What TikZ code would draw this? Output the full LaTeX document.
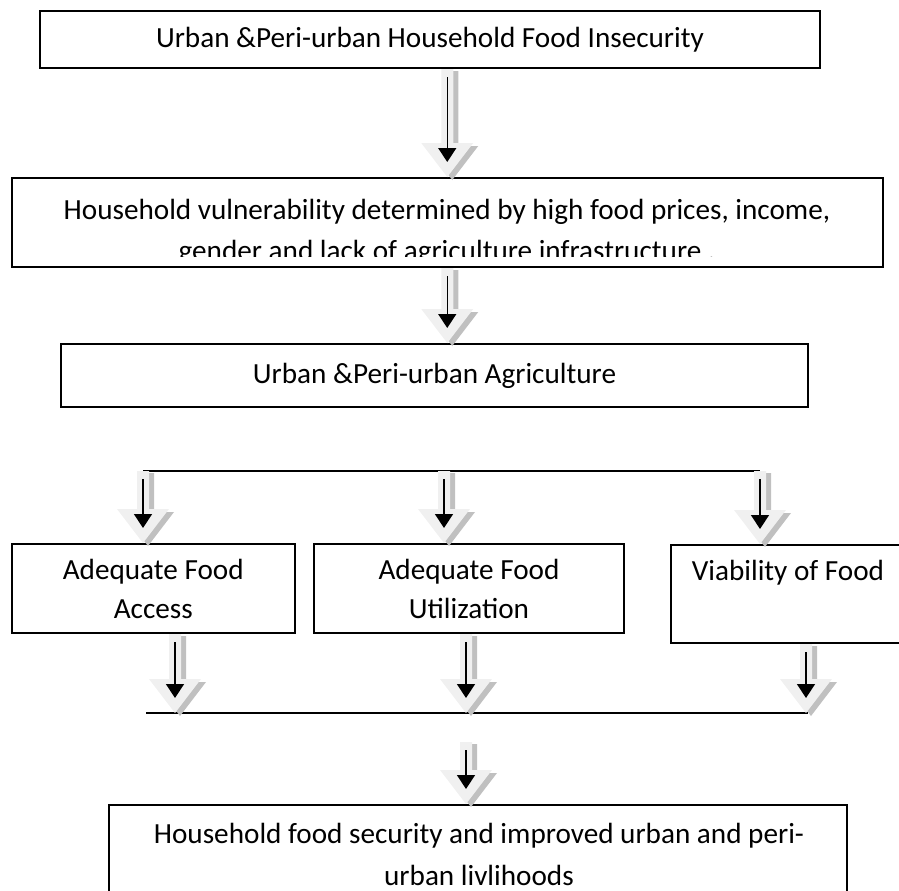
\documentclass[tikz,border=0pt]{standalone}
\usepackage{fontspec}
\setmainfont{Carlito}
\usepackage{tikz}
\usetikzlibrary{arrows.meta,positioning,calc}
\definecolor{arrowFill}{RGB}{240,240,240}
\definecolor{arrowShade}{RGB}{192,192,192}
\newcommand{\blockarrow}[2]{%
  \fill[arrowShade] let \p1=#1, \p2=#2 in
    (\x1-0.5pt,\y1-1pt) -- (\x1+5.5pt,\y1-1pt) -- (\x1+5.5pt,\y2+15.5pt)
    -- (\x1+15.5pt,\y2+15.5pt) -- (\x1+2.5pt,\y2-1.5pt)
    -- (\x1-10.5pt,\y2+15.5pt) -- (\x1-0.5pt,\y2+15.5pt) -- cycle;
  \fill[arrowFill] let \p1=#1, \p2=#2 in
    (\x1-3pt,\y1) -- (\x1+3pt,\y1) -- (\x1+3pt,\y2+17pt)
    -- (\x1+13pt,\y2+17pt) -- (\x1,\y2) -- (\x1-13pt,\y2+17pt)
    -- (\x1-3pt,\y2+17pt) -- cycle;
  \draw[line width=0.7pt, -{Triangle[width=9pt,length=7pt]}]
    let \p1=#1, \p2=#2 in (\x1,\y1-4pt) -- (\x1,\y2+7.5pt);
}

\begin{document}
\begin{tikzpicture}[x=0.5pt, y=-0.5pt,
    box/.style={draw, line width=1pt, inner sep=0pt, align=center,
      font=\fontsize{14.6}{19.5}\selectfont},
    txt/.style={inner sep=0pt, align=center,
      font=\fontsize{14.6}{20.5}\selectfont},
    link/.style={line width=0.9pt}]
  \useasboundingbox (0,0) rectangle (899,890);
  \clip (0,0) rectangle (899,890);

  % boxes
  \node[box, minimum width=390pt, minimum height=28.5pt] (insec) at (430,39.5)
    {Urban \&Peri-urban Household Food Insecurity};
  \node[box, minimum width=435.75pt, minimum height=44.5pt] (vuln) at (447.25,222.5) {};
  \begin{scope}
    \clip ($(vuln.south west)+(0,-12)$) rectangle (vuln.north east);
    \node[txt, anchor=north] (vulnTxt) at (447,199)
      {Household vulnerability determined by high food prices, income,\\
       gender and lack of agriculture infrastructure .};
  \end{scope}
  \node[box, minimum width=373.5pt, minimum height=31.5pt] (agri) at (434.5,375.5)
    {Urban \&Peri-urban Agriculture};
  \node[box, minimum width=141.75pt, minimum height=44.5pt] (access) at (153.25,588.5)
    {Adequate Food\\Access};
  \node[box, minimum width=155pt, minimum height=44.5pt] (util) at (469,588.5)
    {Adequate Food\\Utilization};
  \node[box, minimum width=117pt, minimum height=49pt] (viab) at (788,594) {};
  \node[txt, anchor=north] (viabTxt) at (788,560) {Viability of Food};
  \node[box, minimum width=369pt, minimum height=50pt] (secure) at (478,855) {};
  \node[txt, anchor=north, font=\fontsize{14.6}{21}\selectfont] (secureTxt) at (479,823)
    {Household food security and improved urban and peri-\\urban livlihoods};

  % junction lines
  \coordinate (jA) at (143,471);
  \coordinate (jB) at (444,471);
  \coordinate (jC) at (760,471);
  \draw[link] (jA) -- (jC);
  \coordinate (kL) at (146,713);
  \coordinate (kR) at (808,713);
  \coordinate (mA) at (175,713);
  \coordinate (mB) at (466,713);
  \coordinate (mC) at (806,713);
  \draw[link] (kL) -- (kR);
  \coordinate (gap) at (466,742);

  % arrows
  \blockarrow{(vuln.north |- insec.south)}{(vuln.north)}
  \blockarrow{(vuln.south)}{(vuln.south |- agri.north)}
  \foreach \j/\b in {jA/access, jB/util, jC/viab}
    {\blockarrow{(\j)}{(\j |- \b.north)}}
  \foreach \m/\b in {mA/access, mB/util, mC/viab}
    {\blockarrow{(\m |- \b.south)}{(\m)}}
  \blockarrow{(gap)}{(gap |- secure.north)}
\end{tikzpicture}
\end{document}
